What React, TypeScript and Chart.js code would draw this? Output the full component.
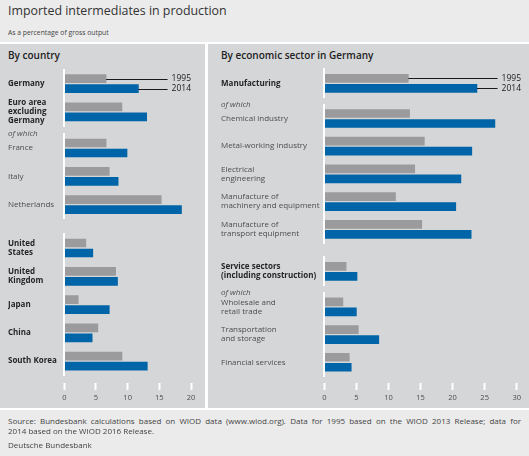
import React, { useEffect, useRef } from "react";
import { Chart, registerables } from "chart.js";

Chart.register(...registerables);

// ---------- data ----------
const seriesYears = ["1995", "2014"];

const countryTopLabels = [["Germany"], ["Euro area", "excluding", "Germany"]];
const countryTop1995 = [6.6, 9.1];
const countryTop2014 = [11.7, 13.0];

const euroMemberLabels = ["France", "Italy", "Netherlands"];
const euroMember1995 = [6.6, 7.1, 15.3];
const euroMember2014 = [9.9, 8.5, 18.5];

const otherCountryLabels = [["United", "States"], ["United", "Kingdom"], "Japan", "China", "South Korea"];
const otherCountry1995 = [3.4, 8.1, 2.2, 5.3, 9.1];
const otherCountry2014 = [4.5, 8.4, 7.1, 4.4, 13.1];

const manufLabels = ["Manufacturing"];
const manuf1995 = [13.1];
const manuf2014 = [23.8];

const manufSubLabels = [
  "Chemical industry",
  "Metal-working industry",
  ["Electrical", "engineering"],
  ["Manufacture of", "machinery and equipment"],
  ["Manufacture of", "transport equipment"],
];
const manufSub1995 = [13.3, 15.6, 14.1, 11.1, 15.2];
const manufSub2014 = [26.6, 23.0, 21.3, 20.5, 22.9];

const serviceLabels = [["Service sectors", "(including construction)"]];
const service1995 = [3.4];
const service2014 = [5.1];

const serviceSubLabels = [["Wholesale and", "retail trade"], ["Transportation", "and storage"], "Financial services"];
const serviceSub1995 = [2.9, 5.3, 3.9];
const serviceSub2014 = [5.0, 8.5, 4.2];

const countryTicks = [0, 5, 10, 15, 20];
const sectorTicks = [0, 5, 10, 15, 20, 25, 30];

// ---------- style ----------
const FONT = "'Open Sans', sans-serif";
const GREY = "#9b9b9d";
const BLUE = "#0064a8";
const PANEL_BG = "#d5d6d8";
const HEAD_BG = "#ebebeb";

type Panel = {
  left: number;
  width: number;
  labelX: number;
  zeroX: number;
  maxX: number;
  max: number;
  step: number;
  ticks: number[];
  legendRight: number;
};

const leftPanel: Panel = { left: 0, width: 205, labelX: 8, zeroX: 64.3, maxX: 191, max: 20, step: 28.3, ticks: countryTicks, legendRight: 191 };
const rightPanel: Panel = { left: 208, width: 321, labelX: 221, zeroX: 324.3, maxX: 516.7, max: 30, step: 27.7, ticks: sectorTicks, legendRight: 521 };

const annotPlugin = {
  id: "annot",
  afterDatasetsDraw(chart: any, _args: any, opts: any) {
    const ctx = chart.ctx;
    ctx.save();
    if (opts.ofWhich) {
      ctx.font = `italic 8px ${FONT}`;
      ctx.fillStyle = "#4d4d4d";
      ctx.textAlign = "left";
      ctx.textBaseline = "middle";
      ctx.fillText("of which", opts.labelX, chart.chartArea.top);
    }
    if (opts.legendRight != null) {
      ctx.font = `8.5px ${FONT}`;
      ctx.textBaseline = "middle";
      ctx.textAlign = "left";
      chart.data.datasets.forEach((ds: any, i: number) => {
        const bar = chart.getDatasetMeta(i).data[0];
        if (!bar) return;
        const w = ctx.measureText(ds.label).width;
        const tx = opts.legendRight - w;
        ctx.strokeStyle = "#1a1a1a";
        ctx.lineWidth = 1;
        ctx.beginPath();
        ctx.moveTo(bar.x, Math.round(bar.y) + 0.5);
        ctx.lineTo(tx - 4, Math.round(bar.y) + 0.5);
        ctx.stroke();
        ctx.fillStyle = "#1a1a1a";
        ctx.fillText(ds.label, tx, bar.y);
      });
    }
    ctx.restore();
  },
};

type GroupProps = {
  panel: Panel;
  labels: any[];
  v95: number[];
  v14: number[];
  bandTop: number;
  bold?: boolean;
  ofWhich?: boolean;
  legend?: boolean;
};

function BarGroup({ panel, labels, v95, v14, bandTop, bold, ofWhich, legend }: GroupProps) {
  const ref = useRef<HTMLCanvasElement>(null);
  const bandH = panel.step * labels.length;
  const top = Math.floor(bandTop) - 24;
  const padTop = bandTop - top;
  const height = Math.ceil(bandTop + bandH + 24) - top;
  const padBottom = height - padTop - bandH;
  useEffect(() => {
    if (!ref.current) return;
    const chart = new Chart(ref.current, {
      type: "bar",
      data: {
        labels,
        datasets: [
          { label: seriesYears[0], data: v95, backgroundColor: GREY, barThickness: 10, maxBarThickness: 8 },
          { label: seriesYears[1], data: v14, backgroundColor: BLUE, barThickness: 10, maxBarThickness: 8 },
        ],
      },
      options: {
        indexAxis: "y",
        responsive: false,
        animation: false,
        events: [],
        layout: {
          padding: {
            left: panel.labelX - panel.left,
            right: panel.left + panel.width - panel.maxX,
            top: padTop,
            bottom: padBottom,
          },
        },
        plugins: {
          legend: { display: false },
          tooltip: { enabled: false },
          annot: {
            ofWhich: !!ofWhich,
            labelX: panel.labelX - panel.left,
            legendRight: legend ? panel.legendRight - panel.left : null,
          },
        } as any,
        scales: {
          x: { type: "linear", display: false, min: 0, max: panel.max },
          y: {
            type: "category",
            offset: true,
            grid: { display: false },
            border: { display: true, color: "#ffffff", width: 2, z: 1 } as any,
            ticks: {
              crossAlign: "far",
              padding: 0,
              autoSkip: false,
              color: bold ? "#262626" : "#4d4d4d",
              font: { family: FONT, size: 8, weight: bold ? "bold" : "normal", lineHeight: 1.15 },
            },
            afterFit: (s: any) => {
              s.width = panel.zeroX - panel.labelX;
            },
          },
        },
      },
      plugins: [annotPlugin],
    });
    return () => chart.destroy();
  }, []);
  return (
    <canvas
      ref={ref}
      width={panel.width}
      height={height}
      style={{ position: "absolute", left: panel.left, top, width: panel.width, height }}
    />
  );
}

function AxisStrip({ panel }: { panel: Panel }) {
  const ref = useRef<HTMLCanvasElement>(null);
  const top = 340;
  const height = 70;
  const areaH = 383 - top; // chart area ends where tick marks start
  const axisH = 7 + 9 + 6; // tick length + label height + 2*padding
  useEffect(() => {
    if (!ref.current) return;
    const chart = new Chart(ref.current, {
      type: "scatter",
      data: { datasets: [] },
      options: {
        responsive: false,
        animation: false,
        events: [],
        layout: {
          padding: {
            left: panel.zeroX - panel.left,
            right: panel.left + panel.width - panel.maxX,
            top: 0,
            bottom: height - areaH - axisH,
          },
        },
        plugins: { legend: { display: false }, tooltip: { enabled: false } },
        scales: {
          y: { display: false },
          x: {
            type: "linear",
            min: 0,
            max: panel.max,
            afterBuildTicks: (s: any) => {
              s.ticks = panel.ticks.map((v) => ({ value: v }));
            },
            grid: { drawOnChartArea: false, drawTicks: true, tickLength: 7, tickColor: "#ffffff", tickWidth: 2 } as any,
            border: { display: false },
            ticks: { padding: 3, color: "#4d4d4d", font: { family: FONT, size: 7.5 } },
          },
        },
      },
    });
    return () => chart.destroy();
  }, []);
  return (
    <canvas
      ref={ref}
      width={panel.width}
      height={height}
      style={{ position: "absolute", left: panel.left, top, width: panel.width, height }}
    />
  );
}

const txt = (o: any): React.CSSProperties => ({ position: "absolute", whiteSpace: "nowrap", fontFamily: FONT, margin: 0, ...o });

export default function App() {
  return (
    <div style={{ position: "fixed", left: 0, top: 0, width: 529, height: 456, background: "#ffffff", overflow: "hidden" }}>
      <div style={{ position: "absolute", left: 0, top: 0, width: 529, height: 42, background: HEAD_BG }} />
      <div style={{ position: "absolute", left: 0, top: 44, width: 205, height: 364, background: PANEL_BG }} />
      <div style={{ position: "absolute", left: 208, top: 44, width: 321, height: 364, background: PANEL_BG }} />
      <div style={{ position: "absolute", left: 0, top: 410, width: 529, height: 46, background: HEAD_BG }} />

      <div style={txt({ left: 8, top: 2, lineHeight: "18px", fontSize: 12.4, color: "#333" })}>Imported intermediates in production</div>
      <div style={txt({ left: 8, top: 28, lineHeight: "10px", fontSize: 6.8, color: "#444" })}>As a percentage of gross output</div>

      <div style={txt({ left: 8, top: 48, lineHeight: "14px", fontSize: 10, fontWeight: 600, color: "#222" })}>By country</div>
      <div style={txt({ left: 221, top: 48, lineHeight: "14px", fontSize: 10, fontWeight: 600, color: "#222" })}>By economic sector in Germany</div>

      <BarGroup panel={leftPanel} labels={countryTopLabels} v95={countryTop1995} v14={countryTop2014} bandTop={69.5} bold legend />
      <BarGroup panel={leftPanel} labels={euroMemberLabels} v95={euroMember1995} v14={euroMember2014} bandTop={133.85} ofWhich />
      <BarGroup panel={leftPanel} labels={otherCountryLabels} v95={otherCountry1995} v14={otherCountry2014} bandTop={233.85} bold />
      <AxisStrip panel={leftPanel} />

      <BarGroup panel={rightPanel} labels={manufLabels} v95={manuf1995} v14={manuf2014} bandTop={69.45} bold legend />
      <BarGroup panel={rightPanel} labels={manufSubLabels} v95={manufSub1995} v14={manufSub2014} bandTop={104.65} ofWhich />
      <BarGroup panel={rightPanel} labels={serviceLabels} v95={service1995} v14={service2014} bandTop={257.45} bold />
      <BarGroup panel={rightPanel} labels={serviceSubLabels} v95={serviceSub1995} v14={serviceSub2014} bandTop={293} ofWhich />
      <AxisStrip panel={rightPanel} />

      <div style={txt({ left: 8, top: 416, width: 513, lineHeight: "10px", fontSize: 8, color: "#444", textAlign: "justify", textAlignLast: "justify" })}>
        Source: Bundesbank calculations based on WIOD data (www.wiod.org). Data for 1995 based on the WIOD 2013 Release; data for
      </div>
      <div style={txt({ left: 8, top: 426, lineHeight: "10px", fontSize: 8, color: "#444" })}>2014 based on the WIOD 2016 Release.</div>
      <div style={txt({ left: 8, top: 440, lineHeight: "10px", fontSize: 8, color: "#444" })}>Deutsche Bundesbank</div>
    </div>
  );
}
